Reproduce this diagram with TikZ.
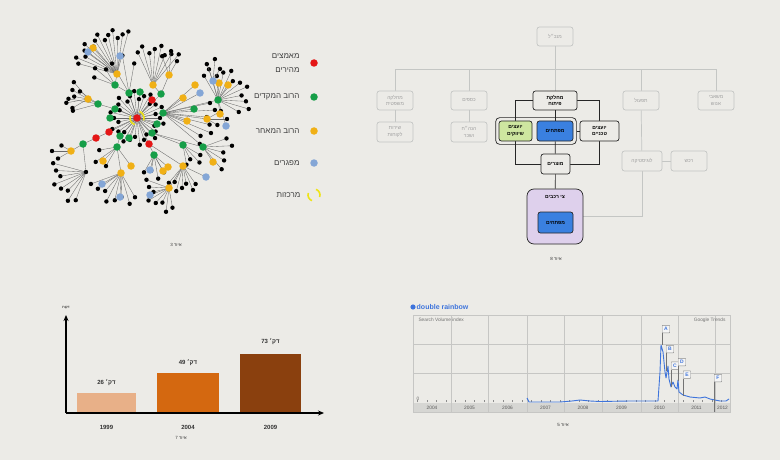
\documentclass[tikz,border=0pt]{standalone}
\usepackage{fontspec}
\setmainfont{Liberation Sans}
\newfontfamily\hebfont[Script=Hebrew]{Liberation Sans}
\TeXXeTstate=1
\usetikzlibrary{arrows.meta,positioning,calc,fit,backgrounds}
\definecolor{paper}{RGB}{236,235,231}
\definecolor{adoptred}{RGB}{228,22,22}
\definecolor{earlygreen}{RGB}{22,158,72}
\definecolor{lateorange}{RGB}{240,176,22}
\definecolor{lagblue}{RGB}{132,166,214}
\definecolor{hubyellow}{RGB}{238,228,24}
\definecolor{edgegray}{RGB}{105,105,105}
\definecolor{orggray}{RGB}{196,198,196}
\definecolor{orgtext}{RGB}{160,160,160}
\definecolor{devblue}{RGB}{58,128,224}
\definecolor{mktgreen}{RGB}{206,230,160}
\definecolor{fleetpurple}{RGB}{222,208,236}
\definecolor{barpeach}{RGB}{232,176,136}
\definecolor{barrust}{RGB}{212,104,16}
\definecolor{barbrown}{RGB}{138,64,14}
\definecolor{trendblue}{RGB}{62,116,220}
\definecolor{gridgray}{RGB}{198,198,196}
\definecolor{bandgray}{RGB}{214,214,211}
\newcommand\hebtxt[1]{{\hebfont\beginR #1\endR}}
\newcommand\hebnum[2]{{\hebfont\beginR #1 \beginL #2\endL\endR}}
% name/x/y/colour/parent
\newcommand\adopterlist{%
  g1/129/93/earlygreen/c, g2/140/92/earlygreen/c, g3/115/109/earlygreen/c,
  g4/110/118/earlygreen/c, g5/120/136/earlygreen/c, g6/129/138/earlygreen/c,
  g7/152/133/earlygreen/c, g8/157/124/earlygreen/c, g9/163/113/earlygreen/c,
  r1/152/100/adoptred/c, r2/109/132/adoptred/c, r4/149/144/adoptred/c,
  g10/161/94/earlygreen/c, g11/115/85/earlygreen/g1, g12/98/104/earlygreen/g3,
  r3/96/138/adoptred/r2, g13/83/144/earlygreen/r3, g14/117/147/earlygreen/g5,
  g15/154/155/earlygreen/r4, g16/194/109/earlygreen/g9, g17/218/100/earlygreen/g9,
  g18/183/145/earlygreen/g7, g19/203/147/earlygreen/g7,
  o1/93/48/lateorange/o2, o2/117/74/lateorange/g11, o3/88/99/lateorange/g12,
  o4/153/85/lateorange/g10, o5/169/75/lateorange/g10, o6/195/85/lateorange/g9,
  o7/219/83/lateorange/g17, o8/228/85/lateorange/g17, o9/183/98/lateorange/g9,
  o10/187/121/lateorange/g9, o11/207/119/lateorange/g9, o12/220/114/lateorange/g17,
  o13/71/151/lateorange/g13, o14/103/161/lateorange/g14, o15/131/166/lateorange/g14,
  o16/121/173/lateorange/g14, o17/168/167/lateorange/g15, o18/163/171/lateorange/g15,
  o19/183/166/lateorange/r4, o20/213/162/lateorange/g19, o21/169/188/lateorange/o19,
  b1/88/52/lagblue/o2, b2/120/56/lagblue/o2, b3/213/81/lagblue/g17,
  b4/200/93/lagblue/g9, b5/226/126/lagblue/g17, b6/150/170/lagblue/g15,
  b7/206/177/lagblue/o19, b8/102/184/lagblue/o16, b9/120/197/lagblue/o16,
  b10/150/195/lagblue/o21}
% hub/first angle/last angle/count/length
\newcommand\fanlist{%
  c/0/348/30/23, o2/195/285/14/40, o3/150/230/5/18, g12/165/215/3/26,
  o4/245/310/8/36, o5/250/300/3/20, g17/240/390/12/28, b3/250/300/3/18,
  g9/-12/40/7/48, g19/-20/50/5/25, g18/30/80/4/20, o19/55/130/7/22,
  o21/80/200/8/20, o16/60/160/8/28, g14/120/170/3/22, k1/110/195/8/30,
  g15/60/120/4/20, g11/200/240/3/22, o11/-30/30/3/16, o13/150/210/3/15,
  g1/240/280/3/34}
\tikzset{
  % network
  leaf/.style={circle, fill=black, inner sep=0pt, minimum size=4.4pt},
  actor/.style={circle, fill=#1, inner sep=0pt, minimum size=7.5pt},
  link/.style={draw=edgegray, line width=0.35pt},
  hubring/.style={draw=hubyellow, line width=1.6pt},
  legtext/.style={font=\fontsize{8}{14}\selectfont, text=black!75, align=right},
  caption/.style={font=\fontsize{4.5}{5}\selectfont, text=black!80},
  % org chart
  orgbox/.style={rectangle, rounded corners=2.5pt, draw=orggray, fill=paper, line width=0.7pt,
                 text=orgtext, font=\fontsize{5}{6.5}\selectfont, align=center,
                 minimum width=36pt, minimum height=19pt, inner sep=1pt},
  unitbox/.style={orgbox, draw=black!85, text=black, font=\fontsize{5}{6.5}\selectfont\bfseries},
  orgline/.style={draw=orggray, line width=0.7pt},
  unitline/.style={draw=black!85, line width=0.7pt},
  % bar chart
  bar/.style={rectangle, fill=#1, inner sep=0pt, anchor=south},
  barlab/.style={font=\fontsize{6}{7}\selectfont\bfseries, text=black!80},
  axis/.style={line width=1.3pt, -{Stealth[length=6pt,width=5pt]}},
  % trends chart
  gridline/.style={draw=gridgray, line width=0.5pt},
  yearlab/.style={font=\fontsize{4.8}{5}\selectfont, text=black!65},
  flag/.style={rectangle, draw=black!45, fill=white!92!gray, text=trendblue, rounded corners=0.5pt,
               font=\fontsize{5}{5}\selectfont\bfseries, minimum size=7.5pt, inner sep=0.5pt, anchor=south west},
  stem/.style={draw=black!55, line width=0.5pt},
}
\begin{document}
\begin{tikzpicture}[x=1pt, y=-1pt]
\useasboundingbox (0,0) rectangle (780,460);

% ---------- adopters network ----------
\coordinate (c) at (137,118);
\coordinate (k1) at (86,172);
\foreach \nm/\x/\y/\col/\pa in \adopterlist {\coordinate (\nm) at (\x,\y);}
\foreach \nm/\x/\y/\col/\pa in \adopterlist {\draw[link] (\pa) -- (\nm);}
\draw[link] (g13) -- (k1);
\foreach \hub/\from/\to/\cnt/\rad in \fanlist {
  \foreach \i in {1,...,\cnt} {
    \pgfmathsetmacro\ang{\from+(\to-\from)*(\i-1)/(\cnt-1)}
    \pgfmathsetmacro\rr{\rad+4*mod(\i,3)-4}
    \draw[link] (\hub) -- ++(\ang:\rr) node[leaf] {};
  }
}
\node[leaf] at (k1) {};
\foreach \nm/\x/\y/\col/\pa in \adopterlist {\node[actor=\col] at (\nm) {};}
\node[actor=adoptred] (center) at (c) {};
\draw[hubring] ($(c)+(110:7)$) arc[start angle=110, end angle=200, radius=7];
\draw[hubring] ($(c)+(290:7)$) arc[start angle=290, end angle=380, radius=7];

% legend
\node[actor=adoptred] (keyfast) at (314,63) {};
\node[actor=earlygreen] (keyearly) at (314,97) {};
\node[actor=lateorange] (keylate) at (314,131) {};
\node[actor=lagblue] (keylag) at (314,163) {};
\coordinate (keyhub) at (314,195);
\draw[hubring] ($(keyhub)+(110:6)$) arc[start angle=110, end angle=200, radius=6];
\draw[hubring] ($(keyhub)+(290:6)$) arc[start angle=290, end angle=380, radius=6];
\node[legtext, left=7pt of keyfast] {\hebtxt{מאמצים}\\\hebtxt{מהירים}};
\node[legtext, left=7pt of keyearly] {\hebtxt{הרוב המקדים}};
\node[legtext, left=7pt of keylate] {\hebtxt{הרוב המאחר}};
\node[legtext, left=7pt of keylag] {\hebtxt{מפגרים}};
\node[legtext, left=10pt of keyhub] {\hebtxt{מרכזות}};
\node[caption] (cap3) at (176,245) {\hebnum{איור}{3}};

% ---------- org chart ----------
\node[orgbox] (ceo) at (555,36.5) {\hebtxt{מנכ״ל}};
\node[orgbox] (legal) at (395,100.5) {\hebtxt{מחלקה}\\\hebtxt{משפטית}};
\node[orgbox] (finance) at (469,100.5) {\hebtxt{כספים}};
\node[unitbox, minimum width=44pt] (devdept) at (555,100.5) {\hebtxt{מחלקת}\\\hebtxt{פיתוח}};
\node[orgbox] (ops) at (641,100.5) {\hebtxt{תפעול}};
\node[orgbox] (hr) at (716,100.5) {\hebtxt{משאבי}\\\hebtxt{אנוש}};
\node[orgbox, minimum height=20pt] (custsvc) at (395,132) {\hebtxt{שירות}\\\hebtxt{לקוחות}};
\node[orgbox, minimum height=20pt] (payroll) at (469,132) {\hebtxt{הנה״ח}\\\hebtxt{ושכר}};
\node[unitbox, fill=mktgreen, minimum width=33pt, minimum height=20pt] (mktadv) at (515.5,131) {\hebtxt{יועצים}\\\hebtxt{שיווקים}};
\node[unitbox, fill=devblue, minimum width=36pt, minimum height=20pt] (devs) at (555,131) {\hebtxt{מפתחים}};
\node[unitbox, minimum width=39pt, minimum height=20pt] (techadv) at (599.5,131) {\hebtxt{יועצים}\\\hebtxt{טכניים}};
\node[draw=black!85, line width=0.7pt, rounded corners=4pt, inner sep=3pt, fit=(mktadv)(devs)] (devgroup) {};
\node[unitbox, minimum width=29pt, minimum height=20pt] (products) at (555.5,164) {\hebtxt{מוצרים}};
\node[rectangle, rounded corners=7pt, draw=black!85, line width=0.7pt, fill=fleetpurple,
      minimum width=56pt, minimum height=55pt] (fleet) at (555,216.5) {};
\node[font=\fontsize{5}{6}\selectfont\bfseries] (fleettitle) at (555,197) {\hebtxt{צי רכבים}};
\node[unitbox, fill=devblue, minimum width=35pt, minimum height=21pt] (fleetdevs) at (555.5,222.5) {\hebtxt{מפתחים}};
\node[orgbox, minimum width=40pt, minimum height=20pt] (logistics) at (642,161) {\hebtxt{לוגיסטיקה}};
\node[orgbox, minimum height=20pt] (purchase) at (689,161) {\hebtxt{רכש}};
\node[caption] (cap8) at (556,259) {\hebnum{איור}{8}};
\coordinate (spine) at (555,69);

% ---------- bar chart ----------
\coordinate (origin) at (66,413);
\coordinate (ytip) at (66,315);
\coordinate (xtip) at (324,413);
\node[bar=barpeach, minimum width=59pt, minimum height=20pt] (bar99) at (106.5,413) {};
\node[bar=barrust, minimum width=62pt, minimum height=40pt] (bar04) at (188,413) {};
\node[bar=barbrown, minimum width=61pt, minimum height=59pt] (bar09) at (270.5,413) {};
\draw[axis] (origin) -- (ytip);
\draw[axis] (origin) -- (xtip);
\node[font=\fontsize{3.5}{4}\selectfont] (yname) at (66,308) {\hebtxt{דקות}};
\node[barlab, above=3pt of bar99] {\hebnum{דק׳}{26}};
\node[barlab, above=3pt of bar04] {\hebnum{דק׳}{49}};
\node[barlab, above=5pt of bar09] {\hebnum{דק׳}{73}};
\node[barlab, below=9pt of bar99.south] {1999};
\node[barlab, below=9pt of bar04.south] {2004};
\node[barlab, below=9pt of bar09.south] {2009};
\node[caption] (cap7) at (181,438) {\hebnum{איור}{7}};

% ---------- search trend ----------
\fill[trendblue] (413,307) circle (2.6);
\node[anchor=west, text=trendblue, font=\fontsize{7}{8}\selectfont\bfseries, inner sep=0pt] (trendtitle) at (416.5,307) {double rainbow};
\fill[bandgray] (413,403) rectangle (730,412);
\draw[gridline] (413,344) -- (730,344);
\draw[gridline] (413,373) -- (730,373);
\foreach \xpos in {451,488,527,564,602,641,678,715}
  \draw[gridline] (\xpos,315) -- (\xpos,412);
\draw[gridline] (413,315) rectangle (730,412);
\foreach \xpos in {417,427,436,446,455,465,474,484,493,503,512,522,531,541,550,560,569,579,588,598,607,617,626,636,645,655,664,674,683,693,702,712,721}
  \draw[draw=black!45, line width=0.4pt] (\xpos,402) -- (\xpos,399.5);
\foreach \yr/\xpos in {2004/432,2005/469.5,2006/507.5,2007/545.5,2008/583,2009/621.5,2010/659.5,2011/696.5,2012/722.5}
  \node[yearlab] at (\xpos,407.5) {\yr};
\node[anchor=west, font=\fontsize{4.8}{5}\selectfont, text=black!55] at (415,320) {Search Volume index};
\node[anchor=east, font=\fontsize{4.8}{5}\selectfont, text=black!55] at (729,320) {Google Trends};
\node[font=\fontsize{4.8}{5}\selectfont, text=black!60] at (418,398.5) {0};
\draw[trendblue, line width=0.9pt, line join=round] plot coordinates {
  (527,398) (529,402) (560,402) (572,401) (580,400) (590,401) (600,401.5) (630,401) (658,401)
  (660,372) (661,345) (663,352) (665,372) (666,378) (668,366) (669,379) (671,387) (673,382)
  (675,387) (677,389) (678,380) (679,392) (683,395) (690,397) (700,398) (705,397) (710,399)
  (720,401) (726,401) (729,399)};
\node[flag] (fa) at (662,333) {A};
\node[flag] (fb) at (666,353) {B};
\node[flag] (fc) at (671,369.5) {C};
\node[flag] (fd) at (678,366) {D};
\node[flag] (fe) at (683,378.5) {E};
\node[flag] (ff) at (714,382) {F};
\coordinate (fa-foot) at (662,345);
\coordinate (fb-foot) at (666,371);
\coordinate (fc-foot) at (671,387);
\coordinate (fd-foot) at (678,381);
\coordinate (fe-foot) at (683,396);
\coordinate (ff-foot) at (714,412);
\foreach \f in {fa,fb,fc,fd,fe,ff}
  \draw[stem] (\f.south west) -- (\f-foot);
\node[caption] (cap5) at (563,425) {\hebnum{איור}{5}};

% connectors behind the boxes
\begin{pgfonlayer}{background}
  \fill[paper] (0,0) rectangle (780,460);
  \draw[orgline] (ceo) -- (devdept);
  \foreach \unit in {legal,finance,ops,hr}
    \draw[orgline] (\unit.north) |- (spine);
  \draw[orgline] (legal) -- (custsvc);
  \draw[orgline] (finance) -- (payroll);
  \draw[orgline] (ops) -- (logistics);
  \draw[orgline] (logistics.south) |- (fleet.east);
  \draw[orgline] (logistics) -- (purchase);
  \draw[unitline] (devdept.west) -| (mktadv.north);
  \draw[unitline] (mktadv.south) |- (products.west);
  \draw[unitline] (devdept.east) -| (techadv.north);
  \draw[unitline] (techadv.south) |- (products.east);
  \draw[unitline] (devdept) -- (devs);
  \draw[unitline] (devs) -- (products);
  \draw[unitline] (products) -- (fleet);
  \draw[unitline] (devgroup.east) -- (techadv.west);
\end{pgfonlayer}
\end{tikzpicture}
\end{document}
